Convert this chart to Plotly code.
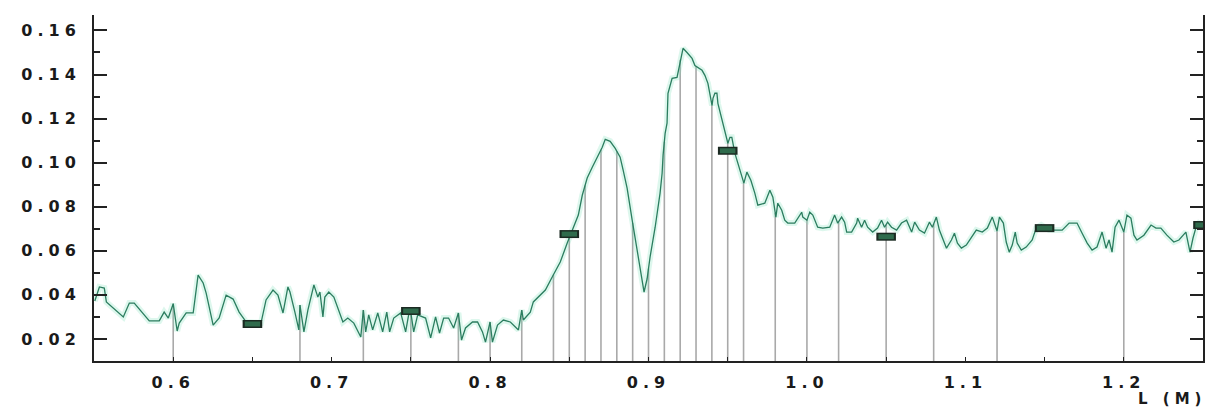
import numpy as np
import plotly.graph_objects as go

# ---- data ----
curve_x = [0.5505, 0.5534, 0.5565, 0.5578, 0.5685, 0.5723, 0.5754, 0.5849, 0.5912, 0.5943,
           0.5969, 0.6000, 0.6025, 0.6038, 0.6082, 0.6126, 0.6157, 0.6189, 0.6208, 0.6252,
           0.6290, 0.6334, 0.6378, 0.6416, 0.6460, 0.6554, 0.6586, 0.6630, 0.6661, 0.6693,
           0.6724, 0.6737, 0.6768, 0.6793, 0.6800, 0.6825, 0.6850, 0.6888, 0.6913, 0.6926,
           0.6945, 0.6957, 0.6982, 0.7014, 0.7071, 0.7102, 0.7140, 0.7184, 0.7200, 0.7215,
           0.7234, 0.7259, 0.7291, 0.7322, 0.7348, 0.7366, 0.7392, 0.7436, 0.7467, 0.7486,
           0.7500, 0.7518, 0.7543, 0.7593, 0.7625, 0.7656, 0.7681, 0.7707, 0.7738, 0.7770,
           0.7800, 0.7820, 0.7845, 0.7889, 0.7921, 0.7952, 0.7971, 0.8000, 0.8015, 0.8047,
           0.8084, 0.8128, 0.8179, 0.8200, 0.8210, 0.8254, 0.8273, 0.8349, 0.8399, 0.8443,
           0.8487, 0.8525, 0.8557, 0.8582, 0.8613, 0.8645, 0.8676, 0.8708, 0.8727, 0.8758,
           0.8790, 0.8821, 0.8840, 0.8865, 0.8897, 0.8928, 0.8960, 0.8972, 0.8991, 0.9010,
           0.9042, 0.9073, 0.9086, 0.9092, 0.9105, 0.9117, 0.9123, 0.9149, 0.9180, 0.9186,
           0.9199, 0.9218, 0.9243, 0.9275, 0.9293, 0.9312, 0.9338, 0.9356, 0.9375, 0.9401,
           0.9407, 0.9419, 0.9432, 0.9438, 0.9463, 0.9482, 0.9501, 0.9514, 0.9526, 0.9545,
           0.9577, 0.9602, 0.9621, 0.9646, 0.9671, 0.9690, 0.9734, 0.9766, 0.9785, 0.9804,
           0.9816, 0.9841, 0.9860, 0.9879, 0.9923, 0.9967, 0.9974, 0.9986, 1.0000, 1.0018,
           1.0037, 1.0068, 1.0100, 1.0144, 1.0175, 1.0194, 1.0219, 1.0238, 1.0251, 1.0282,
           1.0314, 1.0320, 1.0345, 1.0364, 1.0383, 1.0415, 1.0446, 1.0471, 1.0490, 1.0509,
           1.0534, 1.0566, 1.0597, 1.0629, 1.0661, 1.0680, 1.0710, 1.0742, 1.0773, 1.0792,
           1.0817, 1.0836, 1.0855, 1.0881, 1.0912, 1.0931, 1.0950, 1.0975, 1.1006, 1.1038,
           1.1069, 1.1107, 1.1139, 1.1170, 1.1200, 1.1215, 1.1240, 1.1258, 1.1277, 1.1296,
           1.1315, 1.1327, 1.1353, 1.1384, 1.1422, 1.1447, 1.1479, 1.1529, 1.1611, 1.1655,
           1.1705, 1.1737, 1.1769, 1.1800, 1.1831, 1.1863, 1.1888, 1.1907, 1.1926, 1.1945,
           1.1970, 1.2000, 1.2020, 1.2045, 1.2064, 1.2083, 1.2127, 1.2172, 1.2203, 1.2234,
           1.2272, 1.2316, 1.2348, 1.2392, 1.2418, 1.2437, 1.2456, 1.2475, 1.2500]
curve_y = [0.0372, 0.0436, 0.0431, 0.0368, 0.0300, 0.0363, 0.0363, 0.0282, 0.0282, 0.0322,
           0.0295, 0.0360, 0.0236, 0.0272, 0.0318, 0.0318, 0.0490, 0.0454, 0.0408, 0.0263,
           0.0295, 0.0399, 0.0381, 0.0322, 0.0277, 0.0272, 0.0377, 0.0422, 0.0399, 0.0318,
           0.0436, 0.0413, 0.0322, 0.0241, 0.0354, 0.0232, 0.0331, 0.0445, 0.0390, 0.0413,
           0.0300, 0.0390, 0.0413, 0.0390, 0.0277, 0.0295, 0.0272, 0.0209, 0.0331, 0.0232,
           0.0309, 0.0241, 0.0318, 0.0232, 0.0322, 0.0232, 0.0295, 0.0318, 0.0232, 0.0309,
           0.0318, 0.0232, 0.0309, 0.0295, 0.0205, 0.0300, 0.0227, 0.0295, 0.0295, 0.0250,
           0.0318, 0.0195, 0.0250, 0.0277, 0.0277, 0.0232, 0.0186, 0.0277, 0.0186, 0.0263,
           0.0286, 0.0277, 0.0241, 0.0331, 0.0286, 0.0322, 0.0368, 0.0422, 0.0490, 0.0549,
           0.0635, 0.0707, 0.0762, 0.0852, 0.0930, 0.0979, 0.1025, 0.1070, 0.1106, 0.1097,
           0.1065, 0.1025, 0.0966, 0.0884, 0.0739, 0.0603, 0.0454, 0.0413, 0.0472, 0.0572,
           0.0707, 0.0862, 0.0952, 0.1034, 0.1133, 0.1179, 0.1315, 0.1383, 0.1387, 0.1410,
           0.1464, 0.1519, 0.1500, 0.1473, 0.1441, 0.1432, 0.1419, 0.1396, 0.1360, 0.1260,
           0.1292, 0.1315, 0.1315, 0.1269, 0.1192, 0.1147, 0.1088, 0.1115, 0.1115, 0.1043,
           0.0966, 0.0907, 0.0957, 0.0920, 0.0862, 0.0807, 0.0816, 0.0875, 0.0843, 0.0753,
           0.0816, 0.0784, 0.0739, 0.0726, 0.0726, 0.0775, 0.0753, 0.0748, 0.0739, 0.0775,
           0.0762, 0.0707, 0.0703, 0.0707, 0.0762, 0.0726, 0.0753, 0.0730, 0.0685, 0.0685,
           0.0726, 0.0748, 0.0707, 0.0739, 0.0707, 0.0685, 0.0703, 0.0739, 0.0707, 0.0730,
           0.0707, 0.0694, 0.0726, 0.0739, 0.0685, 0.0730, 0.0694, 0.0680, 0.0730, 0.0707,
           0.0753, 0.0694, 0.0658, 0.0612, 0.0649, 0.0680, 0.0635, 0.0612, 0.0626, 0.0658,
           0.0694, 0.0685, 0.0703, 0.0753, 0.0690, 0.0753, 0.0726, 0.0640, 0.0594, 0.0626,
           0.0685, 0.0635, 0.0603, 0.0617, 0.0649, 0.0703, 0.0717, 0.0694, 0.0694, 0.0726,
           0.0726, 0.0680, 0.0635, 0.0603, 0.0617, 0.0685, 0.0612, 0.0649, 0.0594, 0.0707,
           0.0739, 0.0685, 0.0762, 0.0748, 0.0671, 0.0649, 0.0671, 0.0717, 0.0703, 0.0703,
           0.0671, 0.0640, 0.0649, 0.0685, 0.0594, 0.0658, 0.0707, 0.0726, 0.0720]

stem_x = [0.60, 0.68, 0.72, 0.75, 0.78, 0.80, 0.82, 0.84, 0.85, 0.86, 0.87, 0.88, 0.89,
          0.90, 0.91, 0.92, 0.93, 0.94, 0.95, 0.96, 0.98, 1.00, 1.02, 1.05, 1.08, 1.12, 1.20]

marker_x = [0.65, 0.75, 0.85, 0.95, 1.05, 1.15, 1.25]
marker_y = [0.0268, 0.0327, 0.0676, 0.1054, 0.0664, 0.0703, 0.0717]

x_tickvals = [0.6, 0.7, 0.8, 0.9, 1.0, 1.1, 1.2]
x_ticktext = ["0.6", "0.7", "0.8", "0.9", "1.0", "1.1", "1.2"]
y_tickvals = [0.02, 0.04, 0.06, 0.08, 0.10, 0.12, 0.14, 0.16]
y_ticktext = ["0.02", "0.04", "0.06", "0.08", "0.10", "0.12", "0.14", "0.16"]
x_title = "L (M)"

# ---- figure ----
stem_top = np.interp(stem_x, curve_x, curve_y)
sx, sy = [], []
for xv, yv in zip(stem_x, stem_top):
    sx += [xv, xv, None]
    sy += [0.0, yv, None]

def spaced(t, ls=5):
    return '<span style="letter-spacing:%dpx">' % ls + t + '</span>'

fig = go.Figure()
fig.add_trace(go.Scatter(x=sx, y=sy, mode="lines",
                         line=dict(color="#a9a9a9", width=1.6), hoverinfo="skip"))
fig.add_trace(go.Scatter(x=curve_x, y=curve_y, mode="lines",
                         line=dict(color="rgba(120,225,185,0.25)", width=6), hoverinfo="skip"))
fig.add_trace(go.Scatter(x=curve_x, y=curve_y, mode="lines",
                         line=dict(color="#2b7d5f", width=1.3)))
fig.add_trace(go.Scatter(x=marker_x, y=marker_y, mode="markers",
                         marker=dict(symbol="line-ew", size=14,
                                     line=dict(color="#1b2a22", width=8))))
fig.add_trace(go.Scatter(x=marker_x, y=marker_y, mode="markers",
                         marker=dict(symbol="line-ew", size=11,
                                     line=dict(color="#2f6b4c", width=5))))

axis_font = dict(family="DejaVu Sans", size=16, color="#1a1a1a", weight="bold")
fig.update_xaxes(range=[0.55, 1.25], showgrid=False, zeroline=False,
                 showline=True, linecolor="#222222", linewidth=2, mirror=False,
                 ticks="inside", ticklen=4, tickwidth=1, tickcolor="#222222",
                 tickvals=x_tickvals, ticktext=[spaced(t) for t in x_ticktext],
                 tickfont=axis_font, ticklabelstandoff=6,
                 minor=dict(dtick=0.05, tick0=0.55, ticks="inside", ticklen=4,
                            tickcolor="#222222"))
fig.update_yaxes(range=[0.01, 0.167], showgrid=False, zeroline=False,
                 showline=True, linecolor="#222222", linewidth=2, mirror="ticks",
                 ticks="inside", ticklen=13, tickwidth=2, tickcolor="#222222",
                 tickvals=y_tickvals, ticktext=[spaced(t) for t in y_ticktext],
                 tickfont=axis_font, ticklabelstandoff=8,
                 minor=dict(dtick=0.01, tick0=0.0, ticks="inside", ticklen=6,
                            tickwidth=2, tickcolor="#222222"))
fig.add_annotation(text=spaced(x_title, 5), xref="paper", yref="paper",
                   x=0.972, y=-0.11, xanchor="center", yanchor="middle",
                   showarrow=False,
                   font=dict(family="DejaVu Sans", size=15, color="#1a1a1a", weight="bold"))
# the page body adds an 8px offset, so the figure is sized to fill the window
fig.update_layout(width=1207, height=401, showlegend=False,
                  margin=dict(l=86, r=12, t=7, b=48),
                  paper_bgcolor="white", plot_bgcolor="white")
fig.write_html("out.html")
